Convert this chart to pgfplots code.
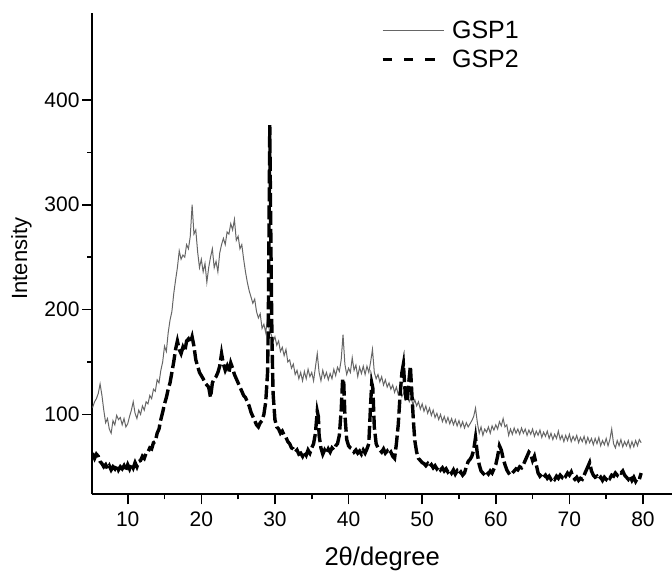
\documentclass[border=0pt]{standalone}
\usepackage{pgfplots}
\pgfplotsset{compat=1.18}
\usepackage{fontspec}
\setmainfont{Liberation Sans}
\begin{document}
\begin{tikzpicture}
\begin{axis}[
  scale only axis,
  width=289.85pt, height=240.5pt,
  xmin=5.19, xmax=83.94,
  ymin=23.7, ymax=482.7,
  axis lines*=left,
  axis line style={line width=0.9pt, black},
  xtick={10,20,...,80},
  ytick={100,200,300,400},
  minor x tick num=1,
  minor y tick num=1,
  tick align=outside,
  major tick length=5pt,
  minor tick length=2.5pt,
  every tick/.style={black, line width=0.8pt},
  /pgf/number format/assume math mode=true,
  tick label style={font=\fontsize{10.5}{12}\selectfont},
  yticklabel style={inner sep=1.2pt},
  xlabel={2\char"03B8/degree},
  ylabel={Intensity},
  xlabel style={font=\fontsize{12.8}{15}\selectfont, at={(axis description cs:0.5,-0.147)}, anchor=base},
  ylabel style={font=\fontsize{11}{13}\selectfont, at={(axis description cs:-0.1221,0.49)}, anchor=center},
  legend style={draw=none, fill=none, inner sep=0pt, outer sep=0pt,
    at={(axis description cs:0.4985,0.9846)}, anchor=north west,
    font=\fontsize{12.5}{14}\selectfont, row sep=5.55pt, column sep=3.5pt,
    nodes={inner sep=0pt, text height=8.95pt, text depth=0pt}},
  legend cell align=left,
  legend image code/.code={\draw[#1] (0pt,-0.5pt) -- (30.5pt,-0.5pt);},
  clip=true,
]
\addplot[black!60, line width=0.5pt] table[row sep=\\] {
x y\\
5.2 106\\ 5.5 112\\ 5.75 115\\ 6.0 120\\ 6.25 129\\ 6.5 118\\ 6.75 104\\ 7.0 92\\ 7.25 96\\ 7.5 86\\
7.75 82\\ 8.0 94\\ 8.25 90\\ 8.5 99\\ 8.75 95\\ 9.0 97\\ 9.25 90\\ 9.5 96\\ 9.75 88\\ 10.0 91\\
10.25 98\\ 10.5 104\\ 10.75 112\\ 11.0 101\\ 11.25 96\\ 11.5 104\\ 11.75 100\\ 12.0 108\\ 12.25 104\\ 12.5 112\\
12.75 110\\ 13.0 118\\ 13.25 115\\ 13.5 124\\ 13.75 122\\ 14.0 133\\ 14.25 130\\ 14.5 142\\ 14.75 150\\ 15.0 165\\
15.25 160\\ 15.5 178\\ 15.75 190\\ 16.0 198\\ 16.25 215\\ 16.5 228\\ 16.75 240\\ 17.0 256\\ 17.25 248\\ 17.5 252\\
17.75 250\\ 18.0 262\\ 18.25 258\\ 18.5 270\\ 18.75 300\\ 19.0 272\\ 19.25 276\\ 19.5 255\\ 19.75 240\\ 20.0 248\\
20.25 236\\ 20.5 244\\ 20.75 226\\ 21.0 240\\ 21.25 250\\ 21.5 258\\ 21.75 240\\ 22.0 246\\ 22.25 236\\ 22.5 254\\
22.75 262\\ 23.0 268\\ 23.25 262\\ 23.5 274\\ 23.75 272\\ 24.0 282\\ 24.25 276\\ 24.5 286\\ 24.75 266\\ 25.0 270\\
25.25 258\\ 25.5 262\\ 25.75 248\\ 26.0 236\\ 26.25 226\\ 26.5 218\\ 26.75 212\\ 27.0 206\\ 27.25 210\\ 27.5 198\\
27.75 192\\ 28.0 196\\ 28.25 182\\ 28.5 186\\ 28.75 178\\ 29.0 192\\ 29.25 180\\ 29.5 176\\ 29.75 170\\ 30.0 174\\
30.25 166\\ 30.5 170\\ 30.75 160\\ 31.0 164\\ 31.25 156\\ 31.5 162\\ 31.75 150\\ 32.0 152\\ 32.25 144\\ 32.5 148\\
32.75 138\\ 33.0 142\\ 33.25 134\\ 33.5 140\\ 33.75 132\\ 34.0 141\\ 34.25 134\\ 34.5 143\\ 34.75 136\\ 35.0 140\\
35.25 132\\ 35.5 145\\ 35.75 158\\ 36.0 140\\ 36.25 132\\ 36.5 142\\ 36.75 135\\ 37.0 140\\ 37.25 133\\ 37.5 139\\
37.75 134\\ 38.0 143\\ 38.25 137\\ 38.5 145\\ 38.75 141\\ 39.0 152\\ 39.25 176\\ 39.5 148\\ 39.75 138\\ 40.0 144\\
40.25 140\\ 40.5 154\\ 40.75 142\\ 41.0 147\\ 41.25 136\\ 41.5 145\\ 41.75 139\\ 42.0 146\\ 42.25 138\\ 42.5 146\\
42.75 140\\ 43.0 150\\ 43.25 162\\ 43.5 140\\ 43.75 134\\ 44.0 138\\ 44.25 131\\ 44.5 136\\ 44.75 128\\ 45.0 133\\
45.25 126\\ 45.5 130\\ 45.75 124\\ 46.0 128\\ 46.25 121\\ 46.5 126\\ 46.75 119\\ 47.0 123\\ 47.25 117\\ 47.5 121\\
47.75 114\\ 48.0 118\\ 48.25 112\\ 48.5 116\\ 48.75 109\\ 49.0 114\\ 49.25 108\\ 49.5 112\\ 49.75 105\\ 50.0 110\\
50.25 103\\ 50.5 108\\ 50.75 101\\ 51.0 106\\ 51.25 99\\ 51.5 104\\ 51.75 97\\ 52.0 101\\ 52.25 95\\ 52.5 100\\
52.75 93\\ 53.0 98\\ 53.25 92\\ 53.5 97\\ 53.75 91\\ 54.0 96\\ 54.25 90\\ 54.5 95\\ 54.75 89\\ 55.0 94\\
55.25 88\\ 55.5 93\\ 55.75 87\\ 56.0 92\\ 56.25 88\\ 56.5 91\\ 56.75 94\\ 57.0 98\\ 57.25 106\\ 57.5 92\\
57.75 82\\ 58.0 88\\ 58.25 80\\ 58.5 86\\ 58.75 83\\ 59.0 88\\ 59.25 82\\ 59.5 89\\ 59.75 85\\ 60.0 90\\
60.25 86\\ 60.5 93\\ 60.75 89\\ 61.0 96\\ 61.25 88\\ 61.5 90\\ 61.75 80\\ 62.0 86\\ 62.25 81\\ 62.5 87\\
62.75 82\\ 63.0 86\\ 63.25 81\\ 63.5 87\\ 63.75 82\\ 64.0 86\\ 64.25 80\\ 64.5 85\\ 64.75 81\\ 65.0 86\\
65.25 79\\ 65.5 84\\ 65.75 80\\ 66.0 85\\ 66.25 78\\ 66.5 83\\ 66.75 79\\ 67.0 84\\ 67.25 77\\ 67.5 82\\
67.75 76\\ 68.0 81\\ 68.25 77\\ 68.5 84\\ 68.75 76\\ 69.0 80\\ 69.25 74\\ 69.5 80\\ 69.75 75\\ 70.0 81\\
70.25 74\\ 70.5 79\\ 70.75 75\\ 71.0 80\\ 71.25 73\\ 71.5 78\\ 71.75 74\\ 72.0 79\\ 72.25 72\\ 72.5 78\\
72.75 73\\ 73.0 77\\ 73.25 71\\ 73.5 77\\ 73.75 72\\ 74.0 78\\ 74.25 70\\ 74.5 75\\ 74.75 71\\ 75.0 77\\
75.25 70\\ 75.5 76\\ 75.75 86\\ 76.0 72\\ 76.25 68\\ 76.5 75\\ 76.75 70\\ 77.0 76\\ 77.25 69\\ 77.5 74\\
77.75 70\\ 78.0 75\\ 78.25 68\\ 78.5 74\\ 78.75 69\\ 79.0 75\\ 79.25 70\\ 79.5 76\\ 79.75 73\\
};
\addlegendentry{GSP1}
\addplot[black, line width=1.7pt, dash pattern=on 7pt off 2pt,
  legend image post style={line width=1.4pt, dash pattern=on 4.7pt off 6pt}] table[row sep=\\] {
x y\\
5.2 63\\ 5.5 58\\ 5.75 62\\ 6.0 60\\ 6.25 55\\ 6.5 53\\ 6.75 50\\ 7.0 52\\ 7.25 48\\ 7.5 51\\
7.75 47\\ 8.0 50\\ 8.25 48\\ 8.5 52\\ 8.75 47\\ 9.0 50\\ 9.25 48\\ 9.5 51\\ 9.75 47\\ 10.0 52\\
10.25 48\\ 10.5 53\\ 10.75 49\\ 11.0 54\\ 11.25 50\\ 11.5 55\\ 11.75 56\\ 12.0 60\\ 12.25 58\\ 12.5 63\\
12.75 64\\ 13.0 68\\ 13.25 67\\ 13.5 73\\ 13.75 74\\ 14.0 82\\ 14.25 86\\ 14.5 95\\ 14.75 102\\ 15.0 110\\
15.25 116\\ 15.5 124\\ 15.75 130\\ 16.0 140\\ 16.25 150\\ 16.5 162\\ 16.75 170\\ 17.0 162\\ 17.25 158\\ 17.5 164\\
17.75 160\\ 18.0 170\\ 18.25 172\\ 18.5 168\\ 18.75 174\\ 19.0 165\\ 19.25 152\\ 19.5 146\\ 19.75 140\\ 20.0 137\\
20.25 134\\ 20.5 130\\ 20.75 128\\ 21.0 126\\ 21.25 116\\ 21.5 130\\ 21.75 134\\ 22.0 136\\ 22.25 140\\ 22.5 146\\
22.75 158\\ 23.0 148\\ 23.25 142\\ 23.5 146\\ 23.75 140\\ 24.0 149\\ 24.25 144\\ 24.5 138\\ 24.75 134\\ 25.0 130\\
25.25 126\\ 25.5 122\\ 25.75 118\\ 26.0 116\\ 26.25 112\\ 26.5 108\\ 26.75 102\\ 27.0 98\\ 27.25 94\\ 27.5 90\\
27.75 88\\ 28.0 92\\ 28.25 94\\ 28.5 100\\ 28.75 112\\ 29.0 140\\ 29.1 190\\ 29.2 280\\ 29.3 376\\ 29.4 300\\
29.5 230\\ 29.6 170\\ 29.75 120\\ 30.0 95\\ 30.25 88\\ 30.5 86\\ 30.75 82\\ 31.0 84\\ 31.25 80\\ 31.5 78\\
31.75 74\\ 32.0 72\\ 32.25 68\\ 32.5 67\\ 32.75 64\\ 33.0 66\\ 33.25 62\\ 33.5 63\\ 33.75 60\\ 34.0 64\\
34.25 61\\ 34.5 66\\ 34.75 63\\ 35.0 68\\ 35.25 72\\ 35.5 82\\ 35.75 103\\ 35.9 98\\ 36.0 80\\ 36.25 68\\
36.5 62\\ 36.75 66\\ 37.0 63\\ 37.25 67\\ 37.5 64\\ 37.75 68\\ 38.0 66\\ 38.25 70\\ 38.5 72\\ 38.75 80\\
39.0 104\\ 39.2 134\\ 39.35 130\\ 39.5 100\\ 39.75 76\\ 40.0 70\\ 40.25 68\\ 40.5 67\\ 40.75 64\\ 41.0 66\\
41.25 63\\ 41.5 65\\ 41.75 62\\ 42.0 66\\ 42.25 63\\ 42.5 67\\ 42.75 72\\ 43.0 110\\ 43.15 130\\ 43.3 125\\
43.5 88\\ 43.75 72\\ 44.0 68\\ 44.25 66\\ 44.5 64\\ 44.75 67\\ 45.0 63\\ 45.25 65\\ 45.5 62\\ 45.75 64\\
46.0 60\\ 46.25 58\\ 46.5 72\\ 46.75 90\\ 47.0 118\\ 47.25 140\\ 47.45 148\\ 47.65 125\\ 47.85 112\\ 48.0 114\\
48.2 132\\ 48.4 146\\ 48.6 120\\ 48.8 95\\ 49.0 75\\ 49.25 64\\ 49.5 58\\ 49.75 56\\ 50.0 54\\ 50.25 53\\
50.5 51\\ 50.75 53\\ 51.0 50\\ 51.25 52\\ 51.5 49\\ 51.75 51\\ 52.0 48\\ 52.25 50\\ 52.5 47\\ 52.75 49\\
53.0 46\\ 53.25 48\\ 53.5 45\\ 53.75 47\\ 54.0 44\\ 54.25 47\\ 54.5 43\\ 54.75 46\\ 55.0 43\\ 55.25 45\\
55.5 42\\ 55.75 44\\ 56.0 50\\ 56.25 55\\ 56.5 57\\ 56.75 60\\ 57.0 66\\ 57.25 78\\ 57.5 62\\ 57.75 52\\
58.0 46\\ 58.25 44\\ 58.5 42\\ 58.75 45\\ 59.0 43\\ 59.25 46\\ 59.5 44\\ 59.75 48\\ 60.0 52\\ 60.25 60\\
60.5 70\\ 60.75 66\\ 61.0 58\\ 61.25 52\\ 61.5 47\\ 61.75 44\\ 62.0 42\\ 62.25 44\\ 62.5 46\\ 62.75 48\\
63.0 47\\ 63.25 50\\ 63.5 49\\ 63.75 52\\ 64.0 56\\ 64.25 60\\ 64.5 64\\ 64.75 62\\ 65.0 56\\ 65.25 60\\
65.5 52\\ 65.75 44\\ 66.0 41\\ 66.25 43\\ 66.5 40\\ 66.75 42\\ 67.0 39\\ 67.25 41\\ 67.5 38\\ 67.75 40\\
68.0 38\\ 68.25 41\\ 68.5 39\\ 68.75 42\\ 69.0 40\\ 69.25 43\\ 69.5 41\\ 69.75 44\\ 70.0 42\\ 70.25 45\\
70.5 40\\ 70.75 38\\ 71.0 40\\ 71.25 37\\ 71.5 39\\ 71.75 38\\ 72.0 42\\ 72.25 46\\ 72.5 50\\ 72.75 54\\
73.0 46\\ 73.25 42\\ 73.5 40\\ 73.75 41\\ 74.0 38\\ 74.25 40\\ 74.5 37\\ 74.75 40\\ 75.0 38\\ 75.25 41\\
75.5 39\\ 75.75 42\\ 76.0 41\\ 76.25 44\\ 76.5 42\\ 76.75 45\\ 77.0 44\\ 77.25 46\\ 77.5 42\\ 77.75 40\\
78.0 38\\ 78.25 41\\ 78.5 37\\ 78.75 40\\ 79.0 36\\ 79.25 39\\ 79.5 38\\ 79.75 44\\
};
\addlegendentry{GSP2}
\end{axis}
\pgfresetboundingbox
\path[use as bounding box] ([xshift=-46.15pt,yshift=-38.35pt]current axis.south west) rectangle ([yshift=6.65pt]current axis.north east);
\end{tikzpicture}
\end{document}
